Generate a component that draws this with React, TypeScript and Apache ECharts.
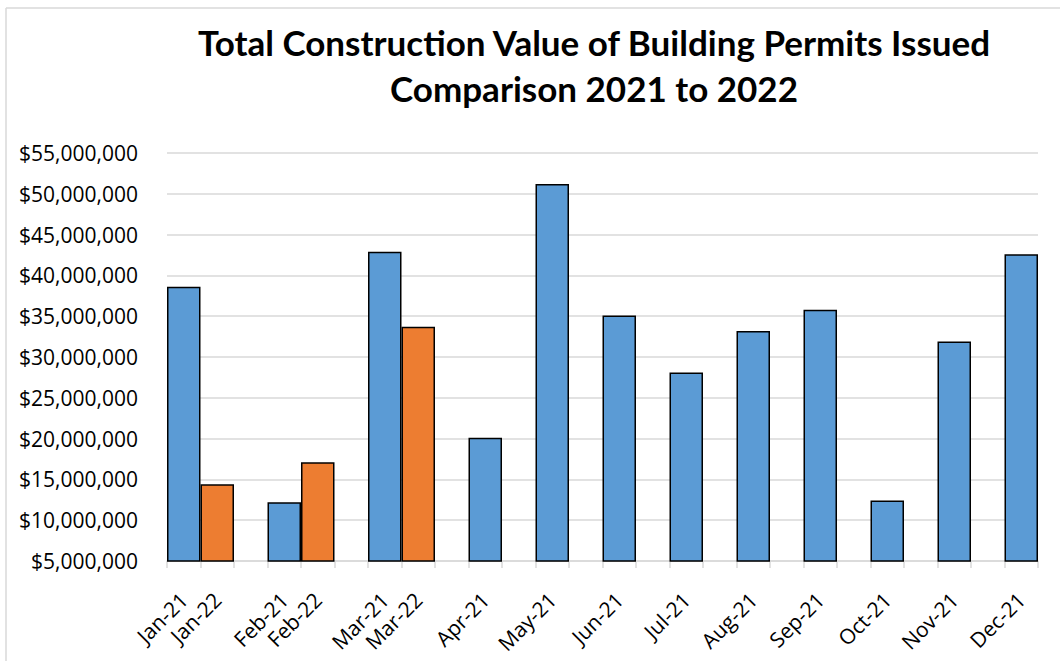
import React, { useEffect, useRef } from "react";
import * as echarts from "echarts";

const titleLines = [
  "Total Construction Value of Building Permits Issued",
  "Comparison 2021 to 2022",
];

const categories = [
  "Jan-21", "Jan-22", "",
  "Feb-21", "Feb-22", "",
  "Mar-21", "Mar-22", "",
  "Apr-21", "", "May-21", "", "Jun-21", "", "Jul-21", "",
  "Aug-21", "", "Sep-21", "", "Oct-21", "", "Nov-21", "", "Dec-21",
];

const values2021 = [
  38600000, null, null,
  12200000, null, null,
  42900000, null, null,
  20100000, null, 51200000, null, 35100000, null, 28100000, null,
  33200000, null, 35800000, null, 12400000, null, 31900000, null, 42600000,
];

const values2022 = [
  null, 14400000, null,
  null, 17100000, null,
  null, 33700000, null,
  null, null, null, null, null, null, null, null,
  null, null, null, null, null, null, null, null, null,
];

const yMin = 5000000;
const yMax = 55000000;
const yStep = 5000000;

const fmt = (v: number) => "$" + v.toLocaleString("en-US");

export default function App() {
  const ref = useRef<HTMLDivElement>(null);
  useEffect(() => {
    if (!ref.current) return;
    const chart = echarts.init(ref.current, null, { renderer: "svg" });
    chart.setOption({
      animation: false,
      backgroundColor: "#fff",
      grid: { left: 167, right: 22, top: 153, bottom: 100, containLabel: false },
      graphic: [
        { type: "line", shape: { x1: 6, y1: 8, x2: 6, y2: 661 }, style: { stroke: "#d9d9d9", lineWidth: 1.5 } },
        { type: "line", shape: { x1: 6, y1: 8, x2: 1060, y2: 8 }, style: { stroke: "#d9d9d9", lineWidth: 1.5 } },
        {
          type: "text", x: 594, y: 42,
          style: { text: titleLines[0], textAlign: "center", textVerticalAlign: "middle", fontFamily: "Lato", fontWeight: "bold", fontSize: 35, fill: "#000" },
        },
        {
          type: "text", x: 594, y: 88,
          style: { text: titleLines[1], textAlign: "center", textVerticalAlign: "middle", fontFamily: "Lato", fontWeight: "bold", fontSize: 35, fill: "#000" },
        },
      ],
      xAxis: {
        type: "category",
        data: categories,
        boundaryGap: true,
        axisLine: { show: true, lineStyle: { color: "#d9d9d9", width: 1.5 } },
        axisTick: { show: true, alignWithLabel: false, interval: 0, length: 7, lineStyle: { color: "#d9d9d9", width: 1.5 } },
        axisLabel: { interval: 0, rotate: 45, margin: 35, fontFamily: "Open Sans", fontSize: 21, color: "#000" },
        splitLine: { show: false },
      },
      yAxis: {
        type: "value",
        min: yMin,
        max: yMax,
        interval: yStep,
        axisLine: { show: false },
        axisTick: { show: false },
        axisLabel: { margin: 29, formatter: (v: number) => fmt(v), fontFamily: "Open Sans", fontSize: 21, color: "#000" },
        splitLine: { show: true, lineStyle: { color: "#d9d9d9", width: 1.5 } },
      },
      series: [
        {
          name: "2021",
          type: "bar",
          stack: "all",
          data: values2021,
          barCategoryGap: "0%",
          itemStyle: { color: "#5B9BD5", borderColor: "#000", borderWidth: 1.5 },
        },
        {
          name: "2022",
          type: "bar",
          stack: "all",
          data: values2022,
          barCategoryGap: "0%",
          itemStyle: { color: "#ED7D31", borderColor: "#000", borderWidth: 1.5 },
        },
      ],
    });
    return () => chart.dispose();
  }, []);
  return <div ref={ref} style={{ position: "fixed", left: 0, top: 0, width: 1060, height: 661 }} />;
}
